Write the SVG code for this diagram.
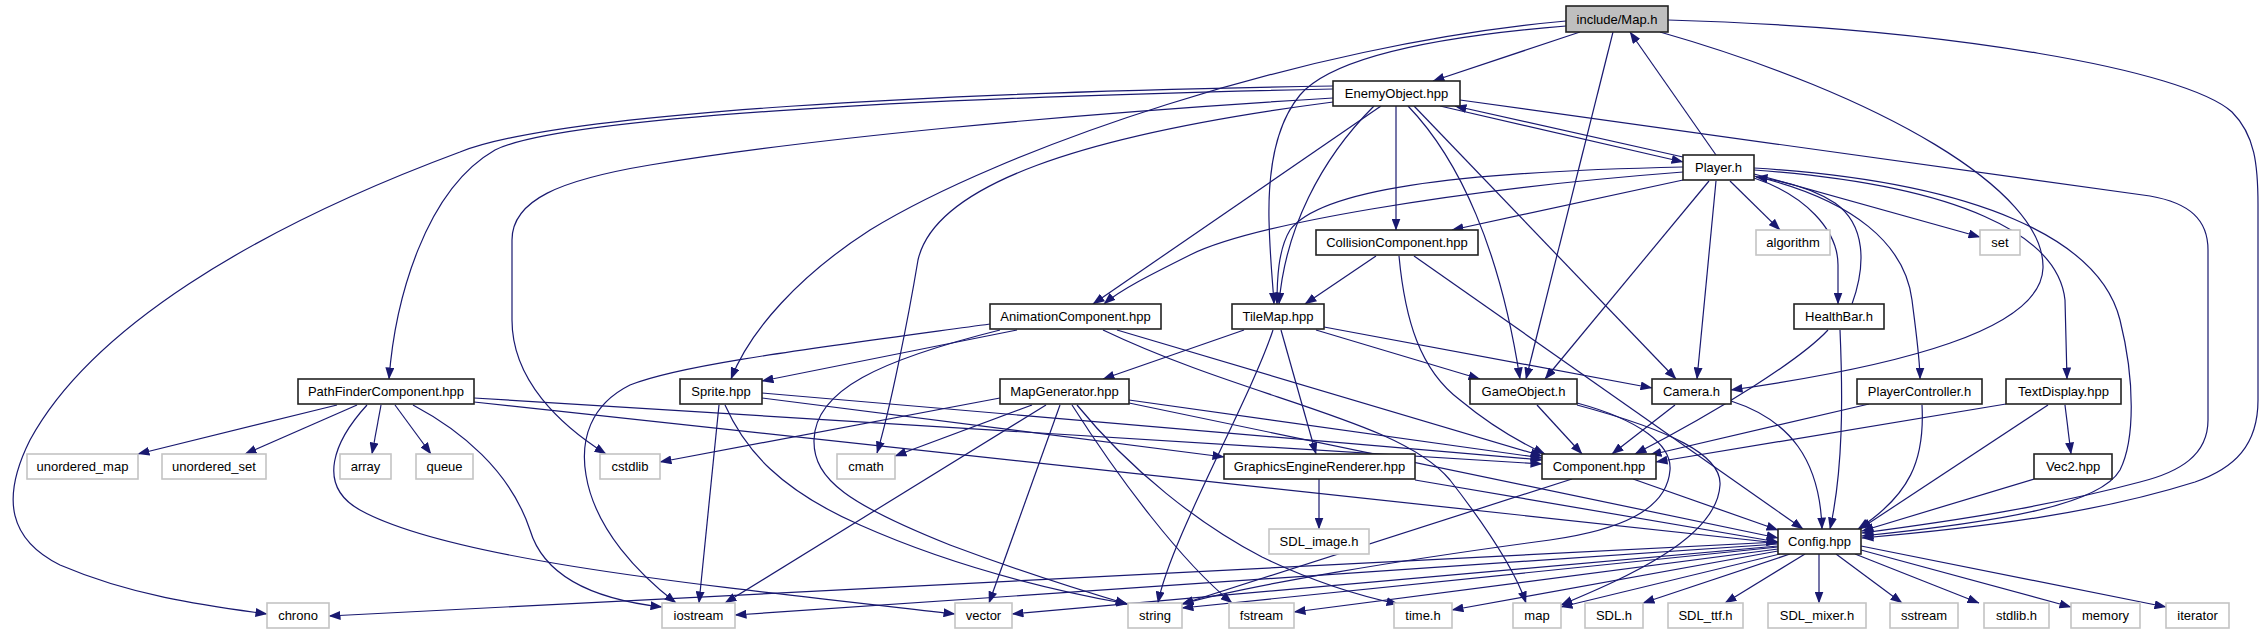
<svg xmlns="http://www.w3.org/2000/svg" width="2265" height="635" viewBox="0 0 2265 635">
<defs>
<marker id="ah" markerWidth="12" markerHeight="9" refX="11.5" refY="4.5" orient="auto" markerUnits="userSpaceOnUse"><path d="M0,0 L12,4.5 L0,9 z" fill="#191970"/></marker>
<style>
.e path{fill:none;stroke:#191970;stroke-width:1.2;marker-end:url(#ah)}
.n rect{fill:#fff;stroke:#222;stroke-width:1.6}
.s rect{fill:#fff;stroke:#c4c4c4;stroke-width:1.6}
.r rect{fill:#bfbfbf;stroke:#222;stroke-width:1.6}
text{font-family:"Liberation Sans",Arial,sans-serif;font-size:13px;text-anchor:middle;fill:#000}
</style>
</defs>
<rect width="2265" height="635" fill="#fff"/>
<g id="edges" class="e">
<path d="M1580,32 L1433,81"/>
<path d="M1716,155 L1630,32"/>
<path d="M1668,20 C1950,28 2185,70 2232,112 C2255,135 2258,165 2258,205 L2258,400 C2258,445 2235,468 2195,482 C2100,512 1990,527 1862,538"/>
<path d="M1660,32 C1880,95 2045,190 2043,268 C2041,330 1900,366 1731,390"/>
<path d="M1613,32 L1526,379"/>
<path d="M1566,26 C1420,38 1330,60 1300,95 C1275,125 1268,170 1269,220 C1270,260 1273,285 1274,304"/>
<path d="M1566,21 C1300,45 1000,150 870,230 C800,275 750,330 731,379"/>
<path d="M1440,106 L1683,162"/>
<path d="M1683,157 L1455,106"/>
<path d="M1396,106 L1396,230"/>
<path d="M1381,106 L1093,304"/>
<path d="M1374,106 C1320,160 1285,230 1279,304"/>
<path d="M1408,106 C1460,160 1500,250 1520,379"/>
<path d="M1414,106 L1676,379"/>
<path d="M1460,100 L2150,196 C2190,203 2208,220 2208,250 L2208,420 C2208,455 2180,472 2140,482 C2050,506 1960,520 1862,533"/>
<path d="M1333,86 C950,92 560,112 460,152 C250,230 90,330 30,440 C0,500 10,540 60,565 C130,595 200,605 267,614"/>
<path d="M1333,89 C900,98 560,118 495,150 C425,190 395,300 389,379"/>
<path d="M1333,98 C1050,115 800,140 650,165 C560,180 512,200 512,240 L512,320 C512,380 560,425 606,454"/>
<path d="M1333,102 C1080,135 935,185 918,260 C908,320 890,410 877,453"/>
<path d="M1683,180 L1452,230"/>
<path d="M1730,181 L1780,230"/>
<path d="M1709,181 L1545,379"/>
<path d="M1716,181 L1697,379"/>
<path d="M1754,178 C1805,195 1838,230 1838,265 L1838,304"/>
<path d="M1852,304 C1866,265 1866,225 1835,203 C1815,190 1785,181 1756,177"/>
<path d="M1754,176 C1855,200 1905,245 1912,300 C1917,340 1920,360 1920,379"/>
<path d="M1754,174 L1980,237"/>
<path d="M1754,170 C1960,185 2058,235 2065,300 L2067,379"/>
<path d="M1754,168 C1980,182 2100,240 2120,320 C2135,380 2135,440 2120,470 C2100,505 2000,522 1862,536"/>
<path d="M1683,167 C1450,172 1320,190 1290,230 C1278,250 1277,280 1277,304"/>
<path d="M1683,172 C1450,190 1250,225 1190,255 C1150,275 1120,290 1104,304"/>
<path d="M1376,256 L1305,304"/>
<path d="M1399,256 C1405,320 1420,370 1460,400 C1490,425 1515,440 1545,454"/>
<path d="M1414,256 L1803,529"/>
<path d="M1017,330 L762,381"/>
<path d="M990,324 C800,350 680,365 630,385 C590,405 580,440 586,475 C595,530 640,575 676,603"/>
<path d="M1000,330 C880,360 815,390 814,440 C813,480 850,505 950,545 C1030,575 1090,593 1127,604"/>
<path d="M1103,330 C1250,400 1400,420 1450,480 C1485,525 1515,570 1526,603"/>
<path d="M1117,330 L1542,456"/>
<path d="M1244,330 L1103,379"/>
<path d="M1281,330 L1316,454"/>
<path d="M1273,330 C1250,400 1170,540 1158,603"/>
<path d="M1316,330 L1480,379"/>
<path d="M1324,327 L1652,388"/>
<path d="M1000,398 L660,462"/>
<path d="M1032,405 L895,456"/>
<path d="M1046,405 L725,603"/>
<path d="M1060,405 L989,603"/>
<path d="M1072,405 C1120,480 1180,560 1232,603"/>
<path d="M1077,405 C1130,470 1200,525 1262,557 C1320,585 1365,597 1398,604"/>
<path d="M1129,400 L1542,458"/>
<path d="M1129,403 L1778,538"/>
<path d="M719,405 L699,603"/>
<path d="M725,405 C745,450 780,490 860,525 C950,565 1050,590 1128,604"/>
<path d="M762,398 L1224,457"/>
<path d="M762,393 L1542,460"/>
<path d="M337,405 L138,454"/>
<path d="M357,405 L245,454"/>
<path d="M381,405 L372,454"/>
<path d="M395,405 L431,454"/>
<path d="M367,405 C335,440 315,485 360,510 C450,560 700,585 955,614"/>
<path d="M413,405 C460,430 510,470 530,530 C545,580 600,600 662,607"/>
<path d="M474,398 L1542,464"/>
<path d="M474,402 L1778,543"/>
<path d="M1537,405 L1582,454"/>
<path d="M1577,403 C1640,420 1672,445 1670,470 C1667,510 1620,530 1550,540 C1400,560 1250,585 1182,604"/>
<path d="M1577,405 C1670,430 1722,455 1720,485 C1717,540 1620,580 1561,605"/>
<path d="M1675,405 L1612,454"/>
<path d="M1731,401 C1790,420 1820,460 1822,529"/>
<path d="M1828,330 C1800,360 1720,410 1635,454"/>
<path d="M1840,330 C1843,400 1843,470 1830,529"/>
<path d="M1869,404 L1650,455"/>
<path d="M1922,405 C1925,460 1910,495 1858,529"/>
<path d="M2006,404 L1656,462"/>
<path d="M2065,405 L2071,454"/>
<path d="M2048,405 L1860,529"/>
<path d="M2034,479 L1862,531"/>
<path d="M1633,479 L1778,530"/>
<path d="M1572,479 L1182,604"/>
<path d="M1319,479 L1319,529"/>
<path d="M1415,480 L1778,542"/>
<path d="M1778,542 L329,616"/>
<path d="M1778,544 L735,615"/>
<path d="M1778,546 L1012,614"/>
<path d="M1778,547 L1182,608"/>
<path d="M1778,549 L1294,612"/>
<path d="M1778,551 L1452,610"/>
<path d="M1780,554 L1561,607"/>
<path d="M1790,554 L1643,603"/>
<path d="M1805,554 L1725,603"/>
<path d="M1819,554 L1819,603"/>
<path d="M1836,554 L1902,603"/>
<path d="M1855,554 L1979,603"/>
<path d="M1861,550 L2071,607"/>
<path d="M1861,546 L2166,607"/>
</g>
<g id="n_map" class="r"><rect x="1566" y="6" width="102" height="26"/><text x="1617" y="24">include/Map.h</text></g>
<g id="n_enemy" class="n"><rect x="1333" y="81" width="127" height="25"/><text x="1396.5" y="98">EnemyObject.hpp</text></g>
<g id="n_player" class="n"><rect x="1683" y="155" width="71" height="25"/><text x="1718.5" y="172">Player.h</text></g>
<g id="n_collision" class="n"><rect x="1316" y="230" width="162" height="25"/><text x="1397" y="247">CollisionComponent.hpp</text></g>
<g id="n_algorithm" class="s"><rect x="1756" y="230" width="74" height="25"/><text x="1793" y="247">algorithm</text></g>
<g id="n_set" class="s"><rect x="1980" y="230" width="40" height="25"/><text x="2000" y="247">set</text></g>
<g id="n_anim" class="n"><rect x="990" y="304" width="171" height="25"/><text x="1075.5" y="321">AnimationComponent.hpp</text></g>
<g id="n_tilemap" class="n"><rect x="1232" y="304" width="92" height="25"/><text x="1278" y="321">TileMap.hpp</text></g>
<g id="n_healthbar" class="n"><rect x="1794" y="304" width="90" height="25"/><text x="1839" y="321">HealthBar.h</text></g>
<g id="n_pathfinder" class="n"><rect x="298" y="379" width="176" height="25"/><text x="386" y="396">PathFinderComponent.hpp</text></g>
<g id="n_sprite" class="n"><rect x="680" y="379" width="82" height="25"/><text x="721" y="396">Sprite.hpp</text></g>
<g id="n_mapgen" class="n"><rect x="1000" y="379" width="129" height="25"/><text x="1064.5" y="396">MapGenerator.hpp</text></g>
<g id="n_gameobject" class="n"><rect x="1470" y="379" width="107" height="25"/><text x="1523.5" y="396">GameObject.h</text></g>
<g id="n_camera" class="n"><rect x="1652" y="379" width="79" height="25"/><text x="1691.5" y="396">Camera.h</text></g>
<g id="n_playerctrl" class="n"><rect x="1857" y="379" width="125" height="25"/><text x="1919.5" y="396">PlayerController.h</text></g>
<g id="n_textdisplay" class="n"><rect x="2006" y="379" width="115" height="25"/><text x="2063.5" y="396">TextDisplay.hpp</text></g>
<g id="n_umap" class="s"><rect x="27" y="454" width="111" height="25"/><text x="82.5" y="471">unordered_map</text></g>
<g id="n_uset" class="s"><rect x="162" y="454" width="104" height="25"/><text x="214" y="471">unordered_set</text></g>
<g id="n_array" class="s"><rect x="340" y="454" width="51" height="25"/><text x="365.5" y="471">array</text></g>
<g id="n_queue" class="s"><rect x="416" y="454" width="57" height="25"/><text x="444.5" y="471">queue</text></g>
<g id="n_cstdlib" class="s"><rect x="600" y="454" width="60" height="25"/><text x="630" y="471">cstdlib</text></g>
<g id="n_cmath" class="s"><rect x="837" y="454" width="58" height="25"/><text x="866" y="471">cmath</text></g>
<g id="n_ger" class="n"><rect x="1224" y="454" width="191" height="25"/><text x="1319.5" y="471">GraphicsEngineRenderer.hpp</text></g>
<g id="n_component" class="n"><rect x="1542" y="454" width="114" height="25"/><text x="1599" y="471">Component.hpp</text></g>
<g id="n_vec2" class="n"><rect x="2034" y="454" width="78" height="25"/><text x="2073" y="471">Vec2.hpp</text></g>
<g id="n_sdlimage" class="s"><rect x="1269" y="529" width="100" height="25"/><text x="1319" y="546">SDL_image.h</text></g>
<g id="n_config" class="n"><rect x="1778" y="529" width="83" height="25"/><text x="1819.5" y="546">Config.hpp</text></g>
<g id="n_chrono" class="s"><rect x="267" y="603" width="62" height="25"/><text x="298" y="620">chrono</text></g>
<g id="n_iostream" class="s"><rect x="662" y="603" width="73" height="25"/><text x="698.5" y="620">iostream</text></g>
<g id="n_vector" class="s"><rect x="955" y="603" width="57" height="25"/><text x="983.5" y="620">vector</text></g>
<g id="n_string" class="s"><rect x="1128" y="603" width="54" height="25"/><text x="1155" y="620">string</text></g>
<g id="n_fstream" class="s"><rect x="1229" y="603" width="65" height="25"/><text x="1261.5" y="620">fstream</text></g>
<g id="n_timeh" class="s"><rect x="1394" y="603" width="58" height="25"/><text x="1423" y="620">time.h</text></g>
<g id="n_mapstd" class="s"><rect x="1513" y="603" width="48" height="25"/><text x="1537" y="620">map</text></g>
<g id="n_sdl" class="s"><rect x="1585" y="603" width="58" height="25"/><text x="1614" y="620">SDL.h</text></g>
<g id="n_sdlttf" class="s"><rect x="1668" y="603" width="75" height="25"/><text x="1705.5" y="620">SDL_ttf.h</text></g>
<g id="n_sdlmixer" class="s"><rect x="1768" y="603" width="98" height="25"/><text x="1817" y="620">SDL_mixer.h</text></g>
<g id="n_sstream" class="s"><rect x="1890" y="603" width="68" height="25"/><text x="1924" y="620">sstream</text></g>
<g id="n_stdlib" class="s"><rect x="1984" y="603" width="65" height="25"/><text x="2016.5" y="620">stdlib.h</text></g>
<g id="n_memory" class="s"><rect x="2071" y="603" width="69" height="25"/><text x="2105.5" y="620">memory</text></g>
<g id="n_iterator" class="s"><rect x="2166" y="603" width="63" height="25"/><text x="2197.5" y="620">iterator</text></g>
</svg>
